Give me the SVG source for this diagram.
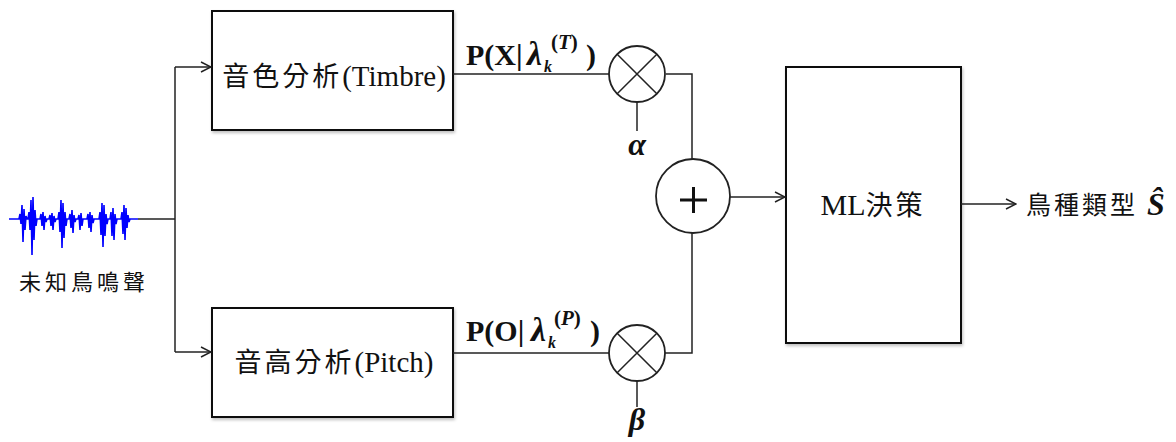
<svg xmlns="http://www.w3.org/2000/svg" width="1176" height="442" viewBox="0 0 1176 442">
<style>
.box{fill:#fff;stroke:#111;stroke-width:2;filter:url(#sh)}
.ln{fill:none;stroke:#222;stroke-width:1.5}
.cir{fill:#fff;stroke:#222;stroke-width:1.8}
.cjk{font-family:"Noto Sans CJK TC","Noto Sans CJK SC",sans-serif;fill:#111}
.lab{font-family:"Liberation Serif","Noto Sans CJK TC",serif;fill:#111}
.math{font-family:"Liberation Serif",serif;font-weight:bold;fill:#111}
</style>
<defs>
<filter id="sh" x="-5%" y="-5%" width="110%" height="110%">
<feDropShadow dx="1" dy="2" stdDeviation="1.5" flood-color="#000" flood-opacity="0.25"/>
</filter>
<marker id="ar" markerWidth="12" markerHeight="12" refX="11" refY="6" orient="auto" markerUnits="userSpaceOnUse">
<path d="M1,1 L11,6 L1,11" fill="none" stroke="#222" stroke-width="1.5"/>
</marker>
</defs>

<g id="waveform">
<path fill="none" stroke="#0000ff" stroke-width="1.6" d="M9,219 L19,219 L20,214 L21,224 L22,205 L23,242 L24,209 L25,230 L26,216 L27,219 L28,219 L29,212 L30,230 L31,200 L32,255 L33,197 L34,240 L35,210 L36,226 L37,219 L40,219 L41,214 L42,226 L43,212 L44,230 L45,216 L46,222 L47,219 L49,219 L50,215 L51,226 L52,213 L53,230 L54,216 L55,222 L56,219 L58,219 L59,212 L60,232 L61,200 L62,248 L63,203 L64,238 L65,212 L66,226 L67,219 L69,219 L70,214 L71,228 L72,210 L73,233 L74,215 L75,222 L76,219 L78,219 L79,215 L80,230 L81,213 L82,226 L83,219 L87,219 L88,214 L89,228 L90,212 L91,232 L92,215 L93,223 L94,219 L99,219 L100,212 L101,235 L102,203 L103,247 L104,205 L105,236 L106,214 L107,224 L108,219 L110,219 L111,212 L112,236 L113,208 L114,240 L115,214 L116,224 L117,219 L121,219 L122,212 L123,234 L124,205 L125,240 L126,208 L127,228 L128,215 L129,222 L130,219 L138,219"/>
</g>
<g id="n-input-label">
<text class="cjk" x="84" y="290" font-size="22" text-anchor="middle" letter-spacing="4">未知鳥鳴聲</text>
</g>

<g id="n-timbre">
<rect class="box" x="212" y="11" width="241" height="119"/>
<text class="lab" x="334" y="86" font-size="29" text-anchor="middle"><tspan class="cjk" font-size="27" letter-spacing="3">音色分析</tspan>(Timbre)</text>
</g>

<g id="n-pitch">
<rect class="box" x="212" y="308" width="241" height="109"/>
<text class="lab" x="334" y="372" font-size="29" text-anchor="middle"><tspan class="cjk" font-size="27" letter-spacing="3">音高分析</tspan>(Pitch)</text>
</g>

<g id="n-ml">
<rect class="box" x="786" y="67" width="175" height="276"/>
<text class="lab" x="873" y="215" font-size="30" text-anchor="middle">ML<tspan class="cjk" font-size="27" letter-spacing="3">決策</tspan></text>
</g>

<g id="connectors">
<path class="ln" d="M138,219 H175"/>
<path class="ln" d="M175,352 V67"/>
<path class="ln" d="M175,67 H211" marker-end="url(#ar)"/>
<path class="ln" d="M175,352 H211" marker-end="url(#ar)"/>
<path class="ln" d="M453,74 H609"/>
<path class="ln" d="M666,74 H692 V159"/>
<path class="ln" d="M637,102 V131"/>
<path class="ln" d="M453,353 H609"/>
<path class="ln" d="M665,353 H692 V233"/>
<path class="ln" d="M637,381 V407"/>
<path class="ln" d="M730,197 H785" marker-end="url(#ar)"/>
<path class="ln" d="M961,204 H1016" marker-end="url(#ar)"/>
</g>

<g id="n-mult-top">
<circle class="cir" cx="637" cy="74" r="28"/>
<path class="ln" d="M617.2,54.2 L656.8,93.8 M656.8,54.2 L617.2,93.8"/>
</g>
<g id="n-mult-bottom">
<circle class="cir" cx="637" cy="353" r="28"/>
<path class="ln" d="M617.2,333.2 L656.8,372.8 M656.8,333.2 L617.2,372.8"/>
</g>
<g id="n-sum">
<circle class="cir" cx="693" cy="196" r="37"/>
<path fill="none" stroke="#111" stroke-width="3" d="M680,200 H707 M693.5,187 V213"/>
</g>

<g id="label-top">
<text class="math" x="466" y="65" font-size="30">P(X|</text>
<text class="math" x="527" y="65" font-size="34" font-style="italic">λ</text>
<text class="math" x="544" y="72" font-size="16" font-style="italic">k</text>
<text class="math" x="551" y="49" font-size="21">(<tspan font-style="italic">T</tspan>)</text>
<text class="math" x="586" y="65" font-size="30">)</text>
</g>
<g id="label-bottom">
<text class="math" x="466" y="341" font-size="30">P(O|</text>
<text class="math" x="531" y="341" font-size="34" font-style="italic">λ</text>
<text class="math" x="548" y="348" font-size="16" font-style="italic">k</text>
<text class="math" x="554" y="325" font-size="21">(<tspan font-style="italic">P</tspan>)</text>
<text class="math" x="590" y="341" font-size="30">)</text>
</g>
<g id="label-alpha">
<text class="math" x="637" y="155" font-size="32" font-style="italic" text-anchor="middle">α</text>
</g>
<g id="label-beta">
<text class="math" x="637" y="430" font-size="32" font-style="italic" text-anchor="middle">β</text>
</g>

<g id="n-output">
<text class="cjk" x="1026" y="214" font-size="25" letter-spacing="3">鳥種類型</text>
<text class="math" x="1156" y="215" font-size="32" font-style="italic" text-anchor="middle">Ŝ</text>
</g>
</svg>
